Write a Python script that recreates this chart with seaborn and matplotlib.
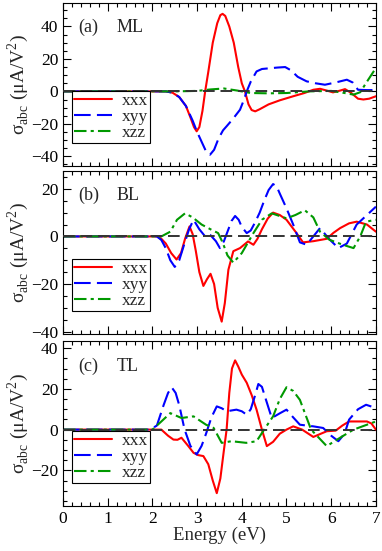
import numpy as np
import pandas as pd
import matplotlib
matplotlib.use("Agg")
import matplotlib.pyplot as plt
import seaborn as sns
from matplotlib.ticker import MultipleLocator

# ---- data (energy in eV, sigma in uA/V^2) ----
ml_xxx_e = [0, 2.0, 2.3, 2.45, 2.6, 2.75, 2.85, 2.93, 2.99, 3.05, 3.12, 3.18, 3.25, 3.35, 3.45, 3.52, 3.57, 3.63, 3.72, 3.82, 3.92, 4.0, 4.07, 4.15, 4.22, 4.3, 4.4, 4.6, 4.85, 5.15, 5.4, 5.6, 5.75, 5.9, 6.04, 6.2, 6.31, 6.45, 6.6, 6.72, 6.85, 7.0]
ml_xxx_v = [0, 0, 0, -0.8, -3.5, -9, -16, -22, -24.6, -22, -12, 0, 12, 30, 42, 47, 47.8, 46.5, 40, 30, 15, 5, 0, -8, -11.5, -12.3, -11, -8, -5.5, -3, -1, 1, 1.6, 0.5, -0.6, 0.5, 1.4, -1, -4.5, -5, -4.5, -3]
ml_xyy_e = [0, 2.0, 2.3, 2.45, 2.6, 2.75, 2.9, 3.0, 3.1, 3.2, 3.29, 3.38, 3.48, 3.58, 3.66, 3.8, 3.96, 4.05, 4.11, 4.2, 4.33, 4.45, 4.6, 4.8, 4.97, 5.1, 5.25, 5.45, 5.65, 5.86, 6.1, 6.35, 6.48, 6.6, 6.8, 7.0]
ml_xyy_v = [0, 0, 0, -0.8, -3.5, -9, -18, -25, -31, -37, -39, -36, -29, -24, -21.5, -17, -11.3, -5, 0, 6, 12.3, 13.8, 14.2, 14.7, 15, 13, 9, 6.2, 5, 4.1, 5.5, 7.2, 5.5, 1, 0.8, 0.8]
ml_xzz_e = [0, 2.0, 2.5, 3.0, 3.3, 3.6, 3.9, 4.2, 4.6, 5.0, 5.5, 6.0, 6.3, 6.5, 6.65, 6.8, 7.0]
ml_xzz_v = [0, 0, 0, 0.3, 1.2, 1.8, 0.5, -1, -1.2, -1, 0, 0.3, -1, -2, -0.5, 6, 14.4]

bl_xxx_e = [0, 2.0, 2.1, 2.2, 2.3, 2.42, 2.54, 2.64, 2.73, 2.83, 2.9, 2.97, 3.05, 3.14, 3.22, 3.3, 3.38, 3.46, 3.55, 3.62, 3.7, 3.81, 3.96, 4.14, 4.26, 4.35, 4.45, 4.58, 4.7, 4.85, 5.0, 5.2, 5.37, 5.6, 5.9, 6.05, 6.2, 6.4, 6.57, 6.8, 7.0]
bl_xxx_v = [0, 0, 0, -1, -3, -7, -9.7, -7, -1, 4.2, 1, -6, -15, -20.8, -18, -15.7, -20, -30, -35.8, -28, -14, -6.2, -4.9, -2.1, -3.5, -1, 3, 7.5, 10, 9, 7, 2, -2.5, -2.0, -1, 1.5, 3.5, 5.5, 6.2, 5, 2]
bl_xyy_e = [0, 2.0, 2.1, 2.2, 2.3, 2.4, 2.5, 2.6, 2.7, 2.82, 2.92, 3.05, 3.18, 3.3, 3.42, 3.51, 3.6, 3.68, 3.77, 3.85, 3.93, 4.0, 4.11, 4.2, 4.3, 4.4, 4.5, 4.6, 4.7, 4.78, 4.85, 5.0, 5.15, 5.3, 5.45, 5.6, 5.75, 5.95, 6.16, 6.35, 6.57, 6.8, 7.0]
bl_xyy_v = [0, 0, 0, -1.5, -5, -10, -12.8, -10, -4, 3, 7, 3, 0, 0.5, -2, -4.9, -2, 2, 6.5, 8.6, 7, 4, 1.4, 2.5, 6, 10, 15, 19.5, 22, 21, 18, 11.8, 5, -2.5, -3.5, 0, 3.5, -1, -4.9, -3, 5, 9, 12.5]
bl_xzz_e = [0, 2.0, 2.2, 2.4, 2.55, 2.73, 2.9, 3.1, 3.3, 3.47, 3.57, 3.68, 3.81, 4.0, 4.26, 4.45, 4.67, 5.0, 5.2, 5.41, 5.6, 5.75, 5.96, 6.26, 6.5, 6.65, 6.78, 7.0]
bl_xzz_v = [0, 0, 0, 2, 7, 9.7, 8, 5, 3, 1.4, -2.5, -8, -11, -7, 1.4, 7, 9.7, 7.6, 9, 11, 8, 2, -1.4, -3.5, -4.9, 0, 6.2, 7]

tl_xxx_e = [0, 2.0, 2.2, 2.35, 2.47, 2.56, 2.65, 2.8, 2.92, 3.02, 3.14, 3.25, 3.35, 3.44, 3.52, 3.6, 3.66, 3.72, 3.78, 3.85, 3.92, 4.0, 4.11, 4.22, 4.33, 4.45, 4.56, 4.7, 4.85, 5.0, 5.15, 5.35, 5.6, 5.9, 6.1, 6.25, 6.4, 6.6, 6.8, 6.9, 7.0]
tl_xxx_v = [0, 0, 0, -3, -4.9, -5, -4, -8, -11.4, -12.5, -13, -17, -25, -31.2, -24, -10, 0, 18, 30, 34, 31, 27, 23, 17, 9.8, 0, -8.1, -6, -2, 0, 1.6, 0, -3.6, -0.8, -0.5, 2, 4, 4, 4, 3, 0]
tl_xyy_e = [0, 1.95, 2.1, 2.25, 2.35, 2.43, 2.52, 2.6, 2.72, 2.85, 2.99, 3.1, 3.2, 3.32, 3.44, 3.55, 3.66, 3.88, 4.0, 4.11, 4.2, 4.3, 4.37, 4.45, 4.55, 4.67, 4.85, 5.0, 5.15, 5.3, 5.6, 5.82, 6.0, 6.16, 6.3, 6.4, 6.6, 6.78, 7.0]
tl_xyy_v = [0, 0, 2, 12, 18, 20.8, 18, 12, 0, -8, -12.2, -8, -2, 6, 11.4, 10.5, 9, 9.8, 9, 7.3, 10, 17, 22.4, 21, 14, 5.7, 8, 9.8, 6, 2.4, 1.6, 0.8, -3, -5.7, -2, 4.9, 10, 12.2, 10.6]
tl_xzz_e = [0, 2.0, 2.2, 2.4, 2.65, 2.92, 3.2, 3.37, 3.55, 3.77, 4.1, 4.33, 4.5, 4.7, 4.85, 5.0, 5.15, 5.3, 5.55, 5.9, 6.25, 6.5, 7.0]
tl_xzz_v = [0, 0, 4, 8.1, 5.7, 6.5, 2.4, 0.8, -6.5, -5.7, -6.5, -5.7, 0, 6.5, 15, 20.8, 19, 14.6, 0, -8.1, -3.3, 0, 4]

panel_tags = ["(a)", "(b)", "(c)"]
panel_names = ["ML", "BL", "TL"]
series_names = ["xxx", "xyy", "xzz"]
ylims = [(-46, 54.5), (-41, 27.5), (-37.5, 43.5)]
yticks = [[-40, -20, 0, 20, 40], [-40, -20, 0, 20], [-20, 0, 20, 40]]

panels = [
    [(ml_xxx_e, ml_xxx_v), (ml_xyy_e, ml_xyy_v), (ml_xzz_e, ml_xzz_v)],
    [(bl_xxx_e, bl_xxx_v), (bl_xyy_e, bl_xyy_v), (bl_xzz_e, bl_xzz_v)],
    [(tl_xxx_e, tl_xxx_v), (tl_xyy_e, tl_xyy_v), (tl_xzz_e, tl_xzz_v)],
]

colors = ["#ff0000", "#0000ff", "#009900"]
styles = ["-", (0, (8, 3)), (0, (6, 2, 1.5, 2))]

sns.set_theme(style="ticks")
plt.rcParams["font.family"] = ["Liberation Serif", "DejaVu Serif"]
plt.rcParams["mathtext.fontset"] = "custom"
plt.rcParams["mathtext.rm"] = "Liberation Serif"

fig = plt.figure(figsize=(3.82, 5.51), dpi=100)
boxes = [(0.165, 0.6987, 0.819, 0.2959),
         (0.165, 0.3938, 0.819, 0.2959),
         (0.165, 0.0817, 0.819, 0.2994)]

for i, box in enumerate(boxes):
    ax = fig.add_axes(box)
    for j, (e, v) in enumerate(panels[i]):
        df = pd.DataFrame({"E": e, "s": v})
        sns.lineplot(data=df, x="E", y="s", ax=ax, color=colors[j],
                     linestyle=styles[j], lw=1.5, label=series_names[j],
                     estimator=None, sort=False)
    ax.axhline(0, color="#333333", lw=1.4, ls=(0, (6, 3)), zorder=3)
    ax.set_xlim(0, 7)
    ax.set_ylim(*ylims[i])
    ax.set_yticks(yticks[i])
    ax.xaxis.set_major_locator(MultipleLocator(1))
    ax.xaxis.set_minor_locator(MultipleLocator(0.2))
    ax.yaxis.set_minor_locator(MultipleLocator(5))
    ax.tick_params(which="both", direction="in", top=True, right=True,
                   labelsize=12.5, width=0.8, colors="black")
    ax.tick_params(which="major", length=6)
    ax.tick_params(which="minor", length=3)
    for s in ax.spines.values():
        s.set_linewidth(0.8)
        s.set_color("black")
    ax.set_ylabel("σ$_{\\mathrm{abc}}$ (μA/V$^2$)", fontsize=14, labelpad=0)
    if i < 2:
        ax.set_xlabel("")
        ax.tick_params(labelbottom=False)
    else:
        ax.set_xlabel("Energy (eV)", fontsize=13.5, labelpad=0)
    ax.text(0.05, 0.82, panel_tags[i], transform=ax.transAxes, fontsize=13)
    ax.text(0.17, 0.82, panel_names[i], transform=ax.transAxes, fontsize=13)
    leg = ax.legend(loc="lower left", bbox_to_anchor=(0.028, 0.14), fontsize=12.5,
                    frameon=True, fancybox=False, handlelength=2.2,
                    borderpad=0.1, labelspacing=0.0, handletextpad=0.6,
                    borderaxespad=0)
    leg.get_frame().set_edgecolor("black")
    leg.get_frame().set_linewidth(0.8)
    leg.get_frame().set_alpha(1)

fig.savefig("out.png", dpi=100)
